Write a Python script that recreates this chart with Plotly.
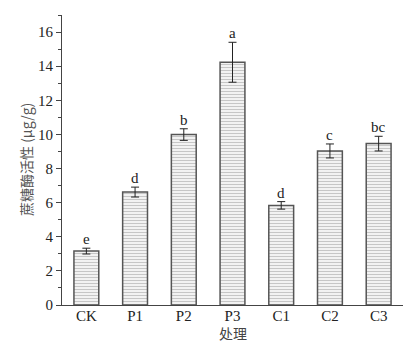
import plotly.graph_objects as go

categories = ["CK", "P1", "P2", "P3", "C1", "C2", "C3"]
values = [3.16, 6.62, 9.99, 14.23, 5.84, 9.03, 9.46]
errors = [0.17, 0.29, 0.34, 1.17, 0.22, 0.41, 0.43]
letters = ["e", "d", "b", "a", "d", "c", "bc"]
x_title = "处理"
y_title = "蔗糖酶活性 (μg/g)"

font_family = "Liberation Serif, Times New Roman, Noto Sans CJK SC, serif"

fig = go.Figure()
fig.add_trace(go.Bar(
    x=categories, y=values,
    width=0.51,
    marker=dict(
        color="#f2f2f2",
        line=dict(color="#555555", width=1.5),
        pattern=dict(shape="-", fgcolor="#9a9a9a", bgcolor="#f2f2f2", size=3, solidity=0.35),
    ),
    error_y=dict(type="data", array=errors, color="#222222", thickness=1, width=4),
    showlegend=False,
))

for c, v, e, t in zip(categories, values, errors, letters):
    fig.add_annotation(x=c, y=v + e, text=t, showarrow=False, yanchor="bottom",
                       yshift=-1, font=dict(family=font_family, size=15, color="#222222"))

fig.add_annotation(xref="paper", yref="paper", x=0.5, y=0, yshift=-28, text=x_title,
                   showarrow=False, yanchor="middle",
                   font=dict(family="Noto Sans CJK SC", size=14, color="#444444"))
fig.add_annotation(xref="paper", yref="paper", x=0, xshift=-36, y=0.5, text=y_title,
                   showarrow=False, textangle=-90, xanchor="center", yanchor="middle",
                   font=dict(family="Noto Sans CJK SC, " + font_family, size=14, color="#555555"))

fig.update_layout(
    width=416, height=345,
    margin=dict(l=62, r=13, t=15, b=40),
    paper_bgcolor="white", plot_bgcolor="white",
    font=dict(family=font_family, size=15, color="#222222"),
    bargap=0.49,
)
fig.update_xaxes(
    range=[-0.5, 6.5], showline=True, linecolor="#444444", linewidth=1.2,
    ticks="", showgrid=False, zeroline=False, automargin=False,
    tickfont=dict(size=15), ticklabelstandoff=-3,
)
fig.update_yaxes(
    range=[0, 17], showline=True, linecolor="#444444", linewidth=1.2,
    ticks="outside", ticklen=5, tickwidth=1, tickcolor="#444444",
    dtick=2, tick0=0, showgrid=False, zeroline=False, automargin=False,
    minor=dict(ticks="outside", ticklen=3, dtick=1, tickcolor="#444444", showgrid=False),
    tickfont=dict(size=15),
)

fig.write_html("out.html")
